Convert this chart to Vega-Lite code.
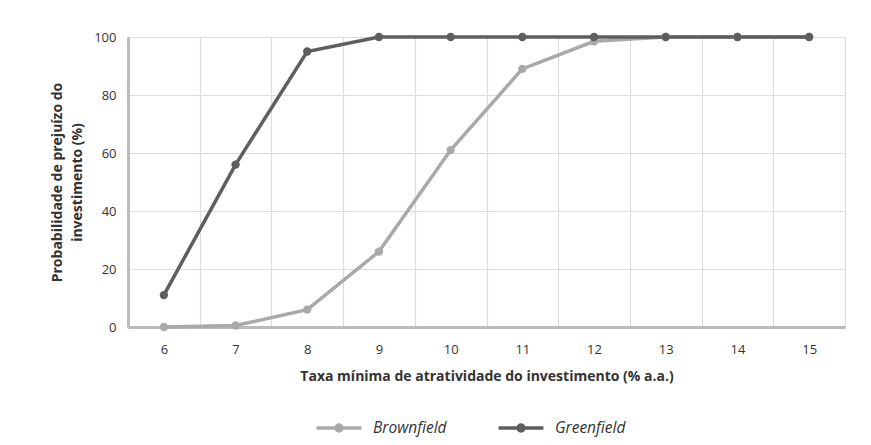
{
  "$schema": "https://vega.github.io/schema/vega-lite/v6.json",
  "width": 717,
  "height": 290,
  "autosize": {"type": "none"},
  "padding": {"left": 128, "top": 37, "right": 26, "bottom": 118},
  "background": "white",
  "config": {
    "font": "Open Sans",
    "view": {"stroke": null},
    "axis": {
      "gridColor": "#dddddd",
      "gridWidth": 1.2,
      "domainColor": "#bbbbbb",
      "domainWidth": 3,
      "ticks": false,
      "labelFont": "Open Sans",
      "labelFontSize": 13,
      "labelColor": "#333333",
      "titleFont": "Open Sans",
      "titleFontSize": 14,
      "titleFontWeight": "bold",
      "titleColor": "#333333"
    },
    "legend": {
      "orient": "none",
      "legendX": 195,
      "legendY": 375,
      "direction": "horizontal",
      "labelFont": "Open Sans",
      "labelFontSize": 15.5,
      "labelFontStyle": "italic",
      "labelColor": "#333333",
      "columnPadding": 44,
      "labelOffset": 18,
      "symbolSize": 790,
      "symbolStrokeWidth": 3.5
    }
  },
  "data": {
    "values": [
      {"taxa": 6, "serie": "Brownfield", "prob": 0},
      {"taxa": 7, "serie": "Brownfield", "prob": 0.5},
      {"taxa": 8, "serie": "Brownfield", "prob": 6},
      {"taxa": 9, "serie": "Brownfield", "prob": 26},
      {"taxa": 10, "serie": "Brownfield", "prob": 61},
      {"taxa": 11, "serie": "Brownfield", "prob": 89},
      {"taxa": 12, "serie": "Brownfield", "prob": 98.5},
      {"taxa": 13, "serie": "Brownfield", "prob": 100},
      {"taxa": 14, "serie": "Brownfield", "prob": 100},
      {"taxa": 15, "serie": "Brownfield", "prob": 100},
      {"taxa": 6, "serie": "Greenfield", "prob": 11},
      {"taxa": 7, "serie": "Greenfield", "prob": 56},
      {"taxa": 8, "serie": "Greenfield", "prob": 95},
      {"taxa": 9, "serie": "Greenfield", "prob": 100},
      {"taxa": 10, "serie": "Greenfield", "prob": 100},
      {"taxa": 11, "serie": "Greenfield", "prob": 100},
      {"taxa": 12, "serie": "Greenfield", "prob": 100},
      {"taxa": 13, "serie": "Greenfield", "prob": 100},
      {"taxa": 14, "serie": "Greenfield", "prob": 100},
      {"taxa": 15, "serie": "Greenfield", "prob": 100}
    ]
  },
  "mark": {"type": "line", "strokeWidth": 3.5, "point": {"size": 70, "filled": true, "opacity": 1}},
  "encoding": {
    "x": {
      "field": "taxa",
      "type": "ordinal",
      "scale": {"type": "band", "paddingInner": 0, "paddingOuter": 0},
      "axis": {
        "title": "Taxa mínima de atratividade do investimento (% a.a.)",
        "labelAngle": 0,
        "labelPadding": 16,
        "titlePadding": 13,
        "grid": true,
        "tickBand": "extent"
      }
    },
    "y": {
      "field": "prob",
      "type": "quantitative",
      "scale": {"domain": [0, 100]},
      "axis": {
        "title": ["Probabilidade de prejuízo do", "investimento (%)"],
        "values": [0, 20, 40, 60, 80, 100],
        "labelPadding": 12,
        "titlePadding": 9,
        "titleLineHeight": 20
      }
    },
    "color": {
      "field": "serie",
      "type": "nominal",
      "scale": {"domain": ["Brownfield", "Greenfield"], "range": ["#a9a9a9", "#5e5e5e"]},
      "legend": {
        "title": null,
        "symbolType": "M-1.6,0H1.6M0.21,0A0.21,0.21 0 1,1 -0.21,0A0.21,0.21 0 1,1 0.21,0Z"
      }
    }
  }
}
